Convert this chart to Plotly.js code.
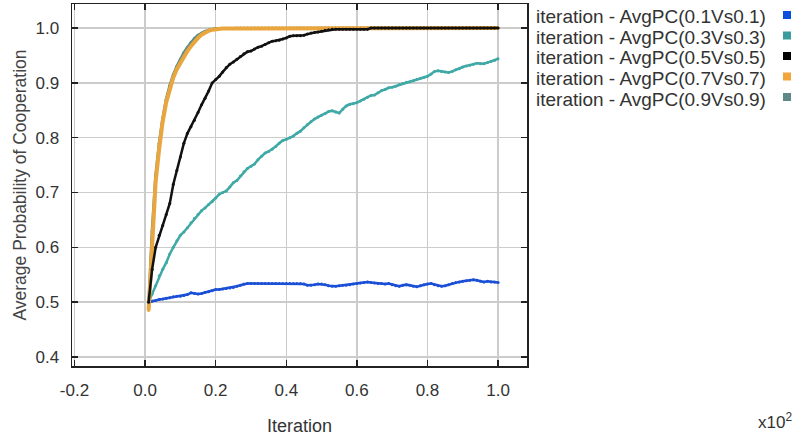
<!DOCTYPE html>
<html>
<head>
<meta charset="utf-8">
<script src="https://cdn.plot.ly/plotly-3.0.1.min.js"></script>
<style>html,body{margin:0;padding:0;background:#fff;}#chart{width:801px;height:437px;}</style>
</head>
<body>
<div id="chart"></div>
<script>
// Iteration (x10^2)
var iteration = [0.01,0.02,0.03,0.04,0.05,0.06,0.07,0.08,0.09,0.10,
0.11,0.12,0.13,0.14,0.15,0.16,0.17,0.18,0.19,0.20,
0.21,0.22,0.23,0.24,0.25,0.26,0.27,0.28,0.29,0.30,
0.31,0.32,0.33,0.34,0.35,0.36,0.37,0.38,0.39,0.40,
0.41,0.42,0.43,0.44,0.45,0.46,0.47,0.48,0.49,0.50,
0.51,0.52,0.53,0.54,0.55,0.56,0.57,0.58,0.59,0.60,
0.61,0.62,0.63,0.64,0.65,0.66,0.67,0.68,0.69,0.70,
0.71,0.72,0.73,0.74,0.75,0.76,0.77,0.78,0.79,0.80,
0.81,0.82,0.83,0.84,0.85,0.86,0.87,0.88,0.89,0.90,
0.91,0.92,0.93,0.94,0.95,0.96,0.97,0.98,0.99,1.00];

var pc01 = [0.500,0.502,0.503,0.505,0.506,0.507,0.508,0.510,0.511,0.511,
0.512,0.514,0.517,0.516,0.515,0.516,0.518,0.519,0.521,0.523,
0.523,0.524,0.525,0.526,0.527,0.529,0.531,0.533,0.534,0.534,
0.534,0.534,0.534,0.534,0.534,0.534,0.534,0.534,0.534,0.534,
0.534,0.534,0.534,0.534,0.533,0.531,0.531,0.532,0.533,0.533,
0.532,0.530,0.529,0.529,0.530,0.531,0.531,0.532,0.533,0.534,
0.535,0.536,0.537,0.536,0.535,0.534,0.534,0.533,0.534,0.532,
0.530,0.529,0.531,0.532,0.531,0.529,0.528,0.530,0.532,0.533,
0.534,0.532,0.530,0.529,0.530,0.532,0.534,0.536,0.537,0.538,
0.539,0.540,0.541,0.540,0.538,0.537,0.538,0.537,0.537,0.536];

var pc03 = [0.500,0.515,0.530,0.548,0.560,0.572,0.588,0.600,0.612,0.622,
0.628,0.636,0.645,0.653,0.660,0.667,0.672,0.678,0.683,0.690,
0.697,0.700,0.703,0.710,0.718,0.722,0.730,0.738,0.744,0.748,
0.752,0.760,0.766,0.772,0.775,0.779,0.784,0.790,0.795,0.797,
0.800,0.803,0.808,0.812,0.818,0.824,0.829,0.834,0.838,0.841,
0.844,0.848,0.849,0.847,0.845,0.852,0.858,0.861,0.862,0.864,
0.867,0.870,0.874,0.877,0.878,0.882,0.886,0.888,0.891,0.892,
0.894,0.897,0.899,0.901,0.902,0.904,0.906,0.908,0.910,0.912,
0.916,0.921,0.922,0.921,0.920,0.919,0.921,0.924,0.926,0.929,
0.931,0.932,0.934,0.936,0.935,0.935,0.937,0.939,0.941,0.944];

var pc05 = [0.500,0.560,0.600,0.622,0.640,0.660,0.680,0.715,0.740,0.765,
0.790,0.808,0.820,0.832,0.846,0.860,0.872,0.885,0.900,0.906,
0.912,0.920,0.928,0.934,0.938,0.943,0.948,0.953,0.957,0.958,
0.962,0.965,0.967,0.970,0.973,0.976,0.977,0.978,0.980,0.982,
0.985,0.986,0.986,0.986,0.987,0.989,0.991,0.992,0.993,0.994,
0.996,0.997,0.998,0.998,0.998,0.998,0.998,0.998,0.998,0.998,
0.998,0.998,0.998,1.000,1.000,1.000,1.000,1.000,1.000,1.000,
1.000,1.000,1.000,1.000,1.000,1.000,1.000,1.000,1.000,1.000,
1.000,1.000,1.000,1.000,1.000,1.000,1.000,1.000,1.000,1.000,
1.000,1.000,1.000,1.000,1.000,1.000,1.000,1.000,1.000,1.000];

var pc07 = [0.485,0.620,0.720,0.780,0.830,0.865,0.890,0.910,0.925,0.937,
0.948,0.958,0.967,0.975,0.982,0.988,0.992,0.995,0.997,0.998,
0.999,0.999,0.999,0.999,0.999,0.999,0.999,0.999,0.999,0.999,
1.000,1.000,1.000,1.000,1.000,1.000,1.000,1.000,1.000,1.000,
1.000,1.000,1.000,1.000,1.000,1.000,1.000,1.000,1.000,1.000,
1.000,1.000,1.000,1.000,1.000,1.000,1.000,1.000,1.000,1.000,
1.000,1.000,1.000,1.000,1.000,1.000,1.000,1.000,1.000,1.000,
1.000,1.000,1.000,1.000,1.000,1.000,1.000,1.000,1.000,1.000,
1.000,1.000,1.000,1.000,1.000,1.000,1.000,1.000,1.000,1.000,
1.000,1.000,1.000,1.000,1.000,1.000,1.000,1.000,1.000,1.000];

var pc09 = [0.490,0.630,0.730,0.790,0.835,0.870,0.895,0.915,0.930,0.943,
0.955,0.965,0.974,0.981,0.987,0.991,0.994,0.996,0.998,0.999,
0.999,0.999,0.999,0.999,0.999,1.000,1.000,1.000,1.000,1.000,
1.000,1.000,1.000,1.000,1.000,1.000,1.000,1.000,1.000,1.000,
1.000,1.000,1.000,1.000,1.000,1.000,1.000,1.000,1.000,1.000,
1.000,1.000,1.000,1.000,1.000,1.000,1.000,1.000,1.000,1.000,
1.000,1.000,1.000,1.000,1.000,1.000,1.000,1.000,1.000,1.000,
1.000,1.000,1.000,1.000,1.000,1.000,1.000,1.000,1.000,1.000,
1.000,1.000,1.000,1.000,1.000,1.000,1.000,1.000,1.000,1.000,
1.000,1.000,1.000,1.000,1.000,1.000,1.000,1.000,1.000,1.000];

var seriesNames = ["iteration - AvgPC(0.1Vs0.1)","iteration - AvgPC(0.3Vs0.3)","iteration - AvgPC(0.5Vs0.5)","iteration - AvgPC(0.7Vs0.7)","iteration - AvgPC(0.9Vs0.9)"];
var seriesColors = ["#1a4fd6","#3fa9a6","#111111","#eaa63e","#5c8b8b"];
var legendColors = ["#0b50dc","#3a9c9c","#000000","#f2a53a","#5e8787"];
var xTicks = [-0.2,0.0,0.2,0.4,0.6,0.8,1.0];
var xTickText = ["-0.2","0.0","0.2","0.4","0.6","0.8","1.0"];
var yTicks = [0.4,0.5,0.6,0.7,0.8,0.9,1.0];
var yTickText = ["0.4","0.5","0.6","0.7","0.8","0.9","1.0"];

function tr(y, i, w, ms) {
  return {x: iteration, y: y, name: seriesNames[i], type: "scatter", mode: "lines+markers",
    line: {color: seriesColors[i], width: w},
    marker: {color: seriesColors[i], size: ms, line: {width: 0}},
    showlegend: false, hoverinfo: "skip"};
}
var data = [tr(pc01,0,2.5,3), tr(pc03,1,2.5,3), tr(pc09,4,3,3), tr(pc07,3,4,3), tr(pc05,2,2.5,3)];

// plot area in pixels: left 72, right 527, top 4, bottom 366
var L = 72, R = 527, T = 4, B = 366;
function px(p){ return (p - L) / (R - L); }
function py(p){ return (B - p) / (B - T); }

var FONT = "Liberation Sans, Arial, sans-serif";
var annotations = [];
var shapes = [];
var rowY = [17, 37.5, 58, 78.5, 99];
for (var k = 0; k < seriesNames.length; k++) {
  annotations.push({xref:"paper", yref:"paper", x: px(534), y: py(rowY[k]), xanchor:"left", yanchor:"middle",
    text: seriesNames[k], showarrow:false, font:{family: FONT, size:19, color:"#333"}});
  shapes.push({type:"rect", xref:"paper", yref:"paper", x0: px(783), x1: px(791), y0: py(rowY[k]+2), y1: py(rowY[k]-6),
    fillcolor: legendColors[k], line:{width:0}});
}
annotations.push({xref:"paper", yref:"paper", x: px(756), y: py(421), xanchor:"left", yanchor:"middle",
  text:"x10<sup>2</sup>", showarrow:false, font:{family: FONT, size:17, color:"#333"}});

var layout = {
  width: 801, height: 437,
  margin: {l: L, r: 801 - R, t: T, b: 437 - B, pad: 0},
  paper_bgcolor: "#fff", plot_bgcolor: "#fff",
  font: {family: FONT, size: 17, color: "#333"},
  xaxis: {range: [-0.207, 1.082], tickvals: xTicks, ticktext: xTickText, showgrid: true, gridcolor: "#cccccc", gridwidth: 1.5,
    zeroline: false, showline: true, linecolor: "#222", linewidth: 1.5, mirror: "allticks", ticks: "inside", ticklen: 6,
    tickcolor: "#222", tickwidth: 1.5, ticklabelstandoff: 8, tickfont: {size: 17, color: "#333"},
    title: {text: "Iteration", font: {size: 18, color: "#333"}, standoff: 20}},
  yaxis: {range: [0.3836, 1.0439], tickvals: yTicks, ticktext: yTickText, showgrid: true, gridcolor: "#cccccc", gridwidth: 1.5,
    zeroline: false, showline: true, linecolor: "#222", linewidth: 1.5, mirror: "allticks", ticks: "inside", ticklen: 6,
    tickcolor: "#222", tickwidth: 1.5, ticklabelstandoff: 8, tickfont: {size: 17, color: "#333"},
    title: {text: "Average Probability of Cooperation", font: {size: 17.5, color: "#444"}, standoff: 4}},
  annotations: annotations,
  shapes: shapes,
  showlegend: false
};
Plotly.newPlot("chart", data, layout, {displayModeBar: false, staticPlot: true});
</script>
</body>
</html>
